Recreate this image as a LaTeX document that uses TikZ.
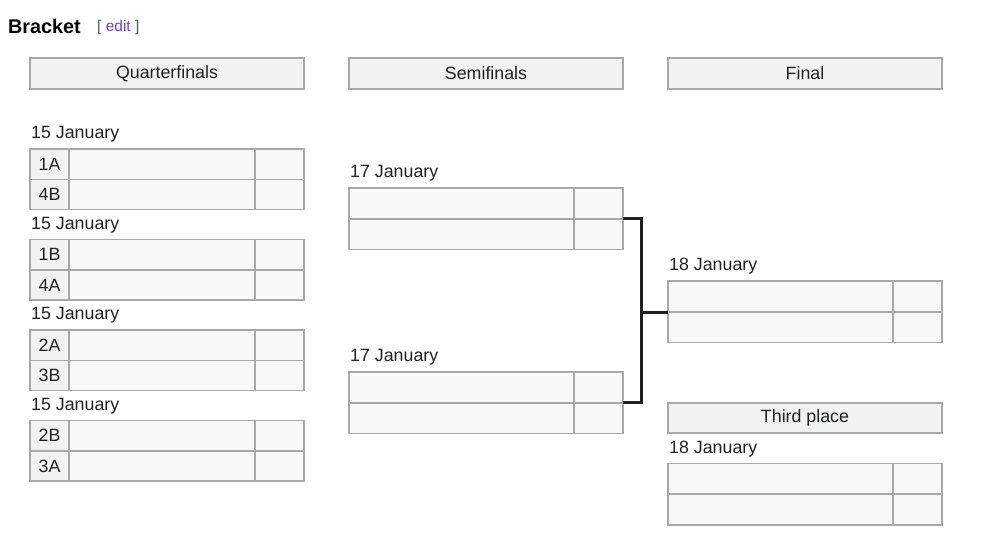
\documentclass[tikz,border=0pt]{standalone}
\usepackage{fontspec}
\setmainfont{Liberation Sans}
\usetikzlibrary{positioning}
\definecolor{txt}{HTML}{202122}
\definecolor{rule}{HTML}{A8A8A8}
\definecolor{hdrfill}{HTML}{F2F2F2}
\definecolor{cellfill}{HTML}{F8F8F8}
\definecolor{visited}{HTML}{6B4BA1}
\definecolor{bracketgrey}{HTML}{54595D}
\tikzset{
    cell/.style={
        draw=rule,
        line width=1.6pt,
        inner sep=0pt,
        outer sep=0pt,
        anchor=north west,
        text=txt,
        font=\fontsize{17.8}{21}\selectfont
    },
    hdr/.style={
        cell,
        fill=hdrfill,
        minimum width=274pt,
        minimum height=31pt
    },
    seed/.style={
        cell,
        fill=hdrfill,
        minimum width=39pt,
        minimum height=30.3pt
    },
    team/.style={
        cell,
        fill=cellfill,
        minimum width=186pt,
        minimum height=30.3pt
    },
    score/.style={
        cell,
        fill=cellfill,
        minimum width=49pt,
        minimum height=30.3pt
    },
    wide/.style={
        cell,
        fill=cellfill,
        minimum width=225pt,
        minimum height=30.7pt
    },
    wscore/.style={
        cell,
        fill=cellfill,
        minimum width=49pt,
        minimum height=30.7pt
    },
    date/.style={
        anchor=west,
        inner sep=0pt,
        text=txt,
        font=\fontsize{17.8}{21}\selectfont
    },
    link/.style={
        line width=3pt,
        draw=black!88
    }
}

\begin{document}
\begin{tikzpicture}[x=1pt,y=-1pt]
\useasboundingbox (0,0) rectangle (996,552);

% title
\node[anchor=west, inner sep=0pt, text=black, font=\fontsize{19.8}{23}\selectfont\bfseries] (title) at (8,26.5) {Bracket};
\node[anchor=west, inner sep=0pt, font=\fontsize{15.5}{19}\selectfont] (edit) at (97,27.5)
    {\textcolor{bracketgrey}{[} \textcolor{visited}{edit} \textcolor{bracketgrey}{]}};

% round headers
\node[hdr] (hqf) at (30,58) {Quarterfinals};
\node[hdr] (hsf) at (349,58) {Semifinals};
\node[hdr] (hfin) at (668,58) {Final};

% quarterfinals
\node[date] (dq1) at (31,134.5) {15 January};
\node[seed] (q1a) at (30,149) {1A};
\node[team, right=0pt of q1a] (q1at) {};
\node[score, right=0pt of q1at] (q1as) {};
\node[seed, below=0pt of q1a] (q1b) {4B};
\node[team, right=0pt of q1b] (q1bt) {};
\node[score, right=0pt of q1bt] (q1bs) {};

\node[date] (dq2) at (31,225.5) {15 January};
\node[seed] (q2a) at (30,239.5) {1B};
\node[team, right=0pt of q2a] (q2at) {};
\node[score, right=0pt of q2at] (q2as) {};
\node[seed, below=0pt of q2a] (q2b) {4A};
\node[team, right=0pt of q2b] (q2bt) {};
\node[score, right=0pt of q2bt] (q2bs) {};

\node[date] (dq3) at (31,315.5) {15 January};
\node[seed] (q3a) at (30,330) {2A};
\node[team, right=0pt of q3a] (q3at) {};
\node[score, right=0pt of q3at] (q3as) {};
\node[seed, below=0pt of q3a] (q3b) {3B};
\node[team, right=0pt of q3b] (q3bt) {};
\node[score, right=0pt of q3bt] (q3bs) {};

\node[date] (dq4) at (31,406.5) {15 January};
\node[seed] (q4a) at (30,420.5) {2B};
\node[team, right=0pt of q4a] (q4at) {};
\node[score, right=0pt of q4at] (q4as) {};
\node[seed, below=0pt of q4a] (q4b) {3A};
\node[team, right=0pt of q4b] (q4bt) {};
\node[score, right=0pt of q4bt] (q4bs) {};

% semifinals
\node[date] (ds1) at (350,173.5) {17 January};
\node[wide] (s1a) at (349,188) {};
\node[wscore, right=0pt of s1a] (s1as) {};
\node[wide, below=0pt of s1a] (s1b) {};
\node[wscore, right=0pt of s1b] (s1bs) {};

\node[date] (ds2) at (350,357.5) {17 January};
\node[wide] (s2a) at (349,372) {};
\node[wscore, right=0pt of s2a] (s2as) {};
\node[wide, below=0pt of s2a] (s2b) {};
\node[wscore, right=0pt of s2b] (s2bs) {};

% final
\node[date] (dfin) at (669,266.5) {18 January};
\node[wide] (f1a) at (668,281) {};
\node[wscore, right=0pt of f1a] (f1as) {};
\node[wide, below=0pt of f1a] (f1b) {};
\node[wscore, right=0pt of f1b] (f1bs) {};

% third place
\node[hdr, minimum height=30pt] (hthird) at (668,403) {Third place};
\node[date] (dthird) at (669,449.5) {18 January};
\node[wide] (t1a) at (668,463.5) {};
\node[wscore, right=0pt of t1a] (t1as) {};
\node[wide, below=0pt of t1a] (t1b) {};
\node[wscore, right=0pt of t1b] (t1bs) {};

% bracket lines
\coordinate (join) at (641,312);
\draw[link] (s1as.south east) -| (join) |- (s2as.south east);
\draw[link] (join) -- (join -| f1a.west);

\end{tikzpicture}
\end{document}
